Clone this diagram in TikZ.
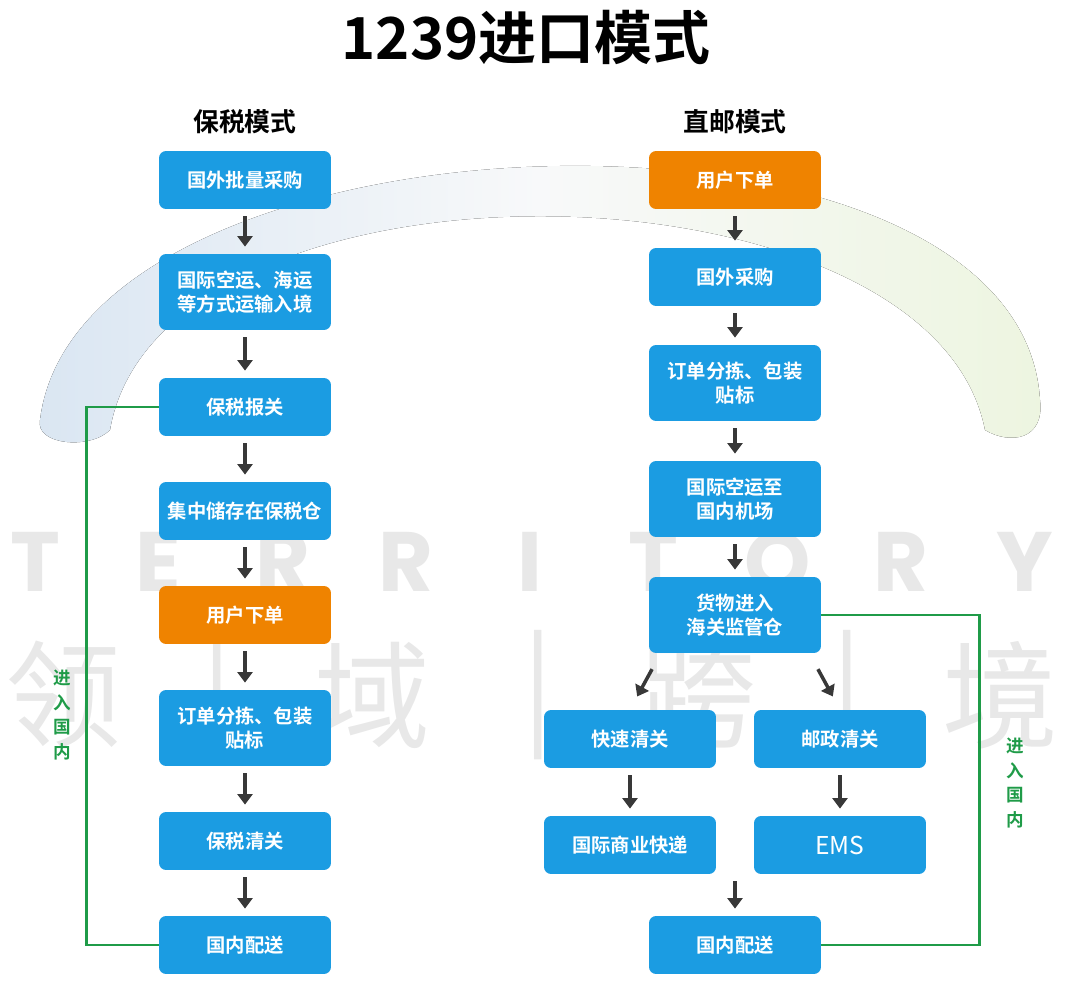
\documentclass[tikz,border=0pt]{standalone}
\usepackage{fontspec}
\setmainfont{Noto Sans CJK SC}[BoldFont={Noto Sans CJK SC Bold}]
\newfontfamily\markfont{Poppins}
\usetikzlibrary{arrows.meta,calc}
\definecolor{boxblue}{HTML}{1B9CE2}
\definecolor{boxorange}{HTML}{EF8300}
\definecolor{routegreen}{HTML}{1F9B48}
\definecolor{arrowgray}{HTML}{383838}
\definecolor{markgray}{HTML}{E8E8E8}
\definecolor{swooshblue}{HTML}{DAE6F2}
\definecolor{swooshmid}{HTML}{F8F9FA}
\definecolor{swooshgreen}{HTML}{EDF5E0}

\tikzset{
  stage/.style={rectangle, rounded corners=4pt, fill=boxblue, text=white,
    font=\fontsize{11}{13.6}\selectfont\bfseries, minimum width=3.44cm,
    minimum height=1.16cm, align=center, inner sep=2pt},
  buyer/.style={stage, fill=boxorange},
  twoline/.style={minimum height=1.52cm},
  flow/.style={draw=arrowgray, line width=2pt, -{Triangle[width=8.5pt,length=6pt]},
    shorten <=0.14cm, shorten >=0.14cm},
  route/.style={draw=routegreen, line width=1.6pt},
  routelabel/.style={text=routegreen, font=\fontsize{10}{10}\selectfont\bfseries,
    inner sep=0pt},
}

\begin{document}
\begin{tikzpicture}[x=0.02cm, y=-0.02cm]
  \useasboundingbox (0,0) rectangle (1080,983);

  % background swoosh and watermark
  \fill[left color=swooshblue, right color=swooshgreen, middle color=swooshmid]
    (40,420) .. controls (80,100) and (1020,70) .. (1040,400)
    .. controls (1045,440) and (1010,445) .. (985,430)
    .. controls (930,150) and (160,140) .. (110,430)
    .. controls (90,450) and (35,445) .. (40,420);
  \foreach \ch [count=\i] in {T,E,R,R,I,T,O,R,Y}
    \node[font=\markfont\bfseries\fontsize{48}{48}\selectfont, text=markgray] (tm\i) at ({35+123.75*(\i-1)},562) {\ch};
  \foreach \ch/\xx [count=\i] in {领/63,|/217,域/372,|/538,跨/698,|/847,境/1000}
    \node[font=\fontsize{66}{66}\selectfont, text=markgray] (cm\i) at (\xx,695) {\ch};

  % titles
  \node[font=\fontsize{33}{33}\selectfont\bfseries] (title) at (526,37) {1239进口模式};
  \node[font=\fontsize{14.7}{14.7}\selectfont\bfseries] (bondhead) at (245,122) {保税模式};
  \node[font=\fontsize{14.7}{14.7}\selectfont\bfseries] (directhead) at (735,122) {直邮模式};

  % bonded mode
  \node[stage] (b1) at (245,180) {国外批量采购};
  \node[stage, twoline] (b2) at (245,292) {国际空运、海运\\等方式运输入境};
  \node[stage] (b3) at (245,407) {保税报关};
  \node[stage] (b4) at (245,511) {集中储存在保税仓};
  \node[buyer] (b5) at (245,615) {用户下单};
  \node[stage, twoline] (b6) at (245,728) {订单分拣、包装\\贴标};
  \node[stage] (b7) at (245,841) {保税清关};
  \node[stage] (b8) at (245,945) {国内配送};

  % direct mail mode
  \node[buyer] (d1) at (735,180) {用户下单};
  \node[stage] (d2) at (735,277) {国外采购};
  \node[stage, twoline] (d3) at (735,383) {订单分拣、包装\\贴标};
  \node[stage, twoline] (d4) at (735,499) {国际空运至\\国内机场};
  \node[stage, twoline] (d5) at (735,615) {货物进入\\海关监管仓};
  \node[stage] (d6) at (630,739) {快速清关};
  \node[stage] (d7) at (840,739) {邮政清关};
  \node[stage] (d8) at (630,845) {国际商业快递};
  \node[stage, font=\fontsize{14}{14}\selectfont] (d9) at (840,845) {EMS};
  \node[stage] (d10) at (735,945) {国内配送};

  % arrows
  \foreach \a/\b in {b1/b2,b2/b3,b3/b4,b4/b5,b5/b6,b6/b7,b7/b8,d1/d2,d2/d3,d3/d4,d4/d5,d6/d8,d7/d9}
    \draw[flow] (\a) -- (\b);
  \draw[flow, shorten <=0.36cm, shorten >=0.3cm] ($(d5.south west)+(12,0)$) -- (d6.north);
  \draw[flow, shorten <=0.36cm, shorten >=0.3cm] ($(d5.south east)+(-12,0)$) -- (d7.north);
  \coordinate (pair) at ($(d8.south)!0.5!(d9.south)$);
  \draw[flow] (pair) -- (d10);

  % green routes
  \draw[route] (b3.west) -- ++(-72,0) |- (b8.west);
  \draw[route] (d5.east) -- ++(158,0) |- (d10.east);
  \foreach \ch [count=\i] in {进,入,国,内} {
    \node[routelabel] (inl\i) at (62,{678+24.5*(\i-1)}) {\ch};
    \node[routelabel] (inr\i) at (1015,{746+24.5*(\i-1)}) {\ch};
  }
\end{tikzpicture}
\end{document}
